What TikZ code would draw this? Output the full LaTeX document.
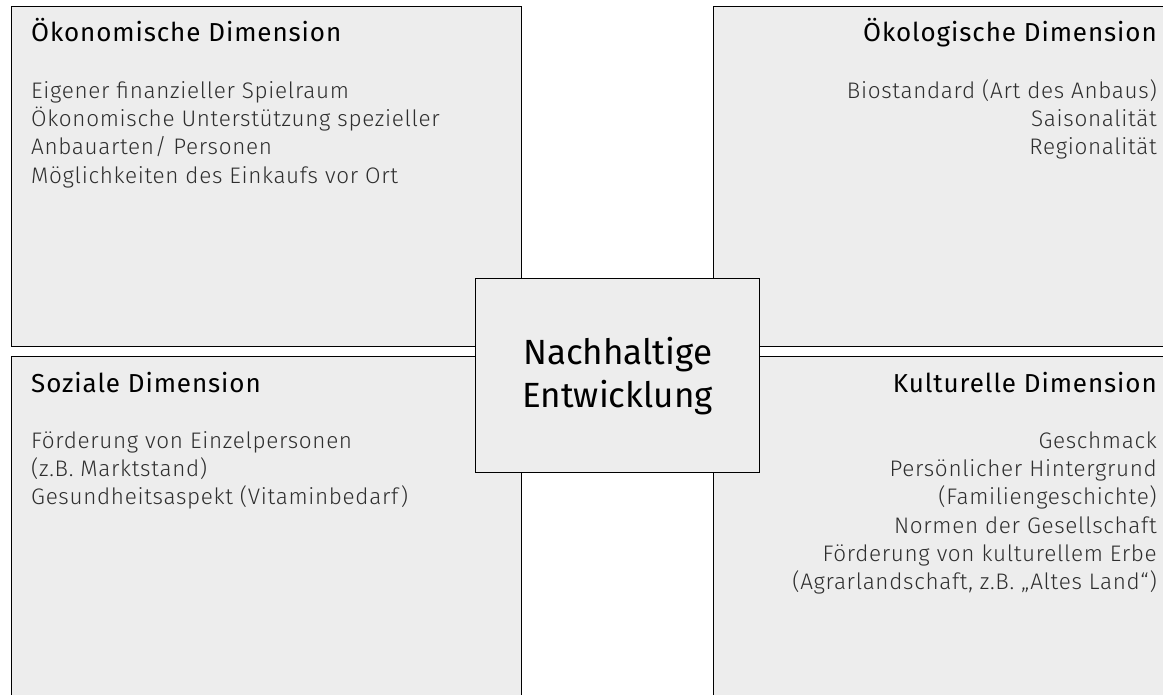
\documentclass[tikz,border=0pt]{standalone}
\usepackage{fontspec}
\setmainfont{Fira Sans}
\newfontfamily\titlefont{Fira Sans}[LetterSpace=3.5]
\newfontfamily\lightfont{Fira Sans Light}[LetterSpace=3]
\definecolor{boxfill}{HTML}{EDEDED}
\definecolor{bodytext}{HTML}{2E2E2E}
\begin{document}
\begin{tikzpicture}[x=1pt,y=-1pt,
  quad/.style={draw=black, line width=1.3pt, fill=boxfill, inner sep=0pt, anchor=north west},
  title/.style={inner sep=0pt, font=\titlefont\fontsize{26}{30}\selectfont, text=black},
  body/.style={inner sep=0pt, font=\lightfont\fontsize{22.5}{28.3}\selectfont, text=bodytext},
  centre/.style={draw=black, line width=1.3pt, fill=boxfill, inner sep=0pt, anchor=north west,
    minimum width=284pt, minimum height=194pt, align=center,
    font=\fontsize{35}{43}\selectfont}]
\path[use as bounding box] (0,0) rectangle (1163,695);
\fill[white] (0,0) rectangle (1163,695);
\clip (0,0) rectangle (1163,695);
% quadrant boxes
\node[quad, minimum width=510pt, minimum height=340pt] (oek) at (11,6) {};
\node[quad, minimum width=510pt, minimum height=360pt] (soz) at (11,356) {};
\node[quad, minimum width=470pt, minimum height=340pt] (eko) at (713,6) {};
\node[quad, minimum width=470pt, minimum height=360pt] (kul) at (713,356) {};
% titles
\node[title, anchor=base west] (oekT) at (31,42) {Ökonomische Dimension};
\node[title, anchor=base west] (sozT) at (31,392) {Soziale Dimension};
\node[title, anchor=base east] (ekoT) at (1157,42) {Ökologische Dimension};
\node[title, anchor=base east] (kulT) at (1157,392) {Kulturelle Dimension};
% bodies
\node[body, align=left, anchor=north west] (oekB) at (31,77)
  {\rule{0pt}{21pt}Eigener finanzieller Spielraum\\
   Ökonomische Unterstützung spezieller\\
   Anbauarten/ Personen\\
   Möglichkeiten des Einkaufs vor Ort};
\node[body, align=left, anchor=north west] (sozB) at (31,427)
  {\rule{0pt}{21pt}Förderung von Einzelpersonen\\
   (z.B. Marktstand)\\
   Gesundheitsaspekt (Vitaminbedarf)};
\node[body, align=right, anchor=north east] (ekoB) at (1157,77)
  {\rule{0pt}{21pt}Biostandard (Art des Anbaus)\\
   Saisonalität\\
   Regionalität};
\node[body, align=right, anchor=north east] (kulB) at (1157,427)
  {\rule{0pt}{21pt}Geschmack\\
   Persönlicher Hintergrund\\
   (Familiengeschichte)\\
   Normen der Gesellschaft\\
   Förderung von kulturellem Erbe\\
   (Agrarlandschaft, z.B. „Altes Land“)};
% centre
\node[centre] (ne) at (475,278) {Nachhaltige\\Entwicklung};
\end{tikzpicture}
\end{document}
